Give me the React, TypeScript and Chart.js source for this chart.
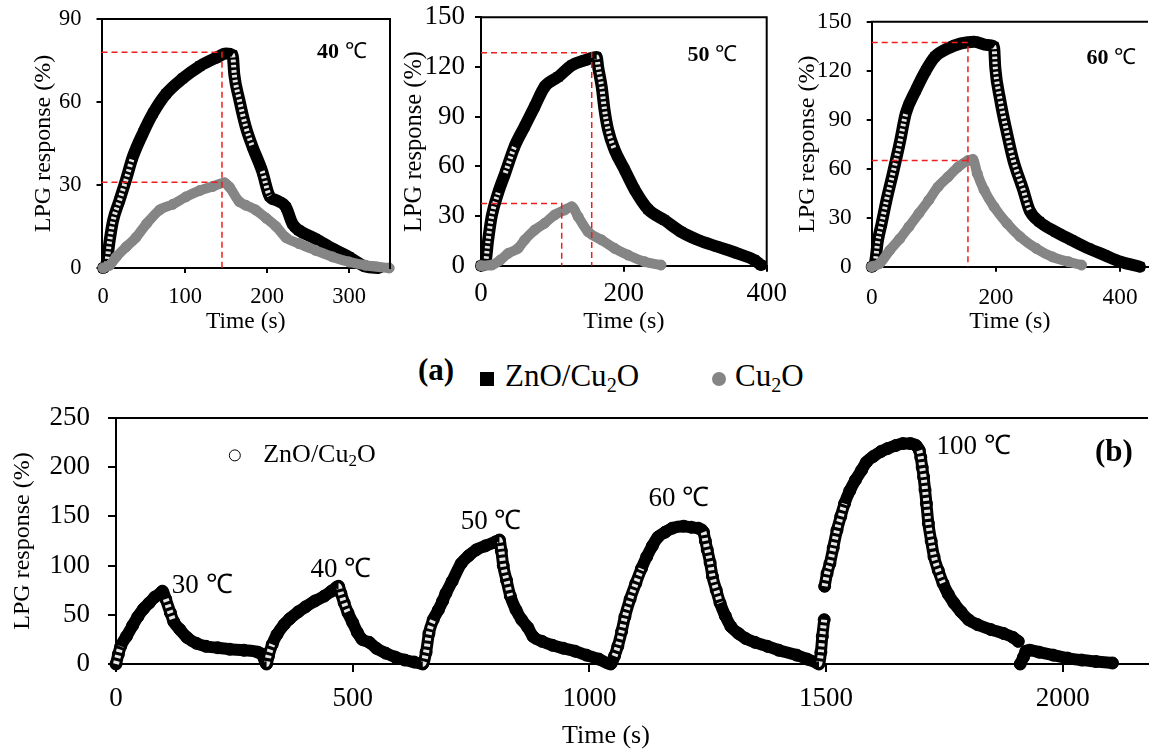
import React, { useEffect, useRef } from "react";
import { Chart, registerables } from "chart.js";

Chart.register(...registerables);

const SERIF = "'Liberation Serif', 'Times New Roman', Times, serif";
const BLACK = "#000000";
const GREY = "#858585";
const RED = "#f01e1e";
const DEG = "\u2103";

// ---------------- (a) 40 °C ----------------
const time40ZnO = [0, 4, 8, 12, 20, 28, 36, 49, 61, 77, 97, 118, 138, 150, 158, 160, 166, 174, 182, 194, 203, 211, 223, 231, 239, 259, 280, 300, 320, 336];
const resp40ZnO = [0, 1.5, 10, 17, 24.5, 32, 40, 49, 56, 63, 68.5, 73, 76, 77.5, 77, 70, 61, 51, 44, 35, 26, 24.5, 22, 16, 13.6, 10.6, 7, 4, 0.5, 0];
const time40Cu2O = [0, 8, 16, 28, 40, 53, 69, 85, 101, 118, 134, 148, 154, 166, 174, 186, 199, 211, 223, 239, 259, 280, 300, 320, 349];
const resp40Cu2O = [0, 1, 4, 7.6, 11, 16, 21, 23, 25.7, 28, 29.5, 30.8, 29.3, 24, 22.7, 21, 18, 15, 11, 8.8, 6.4, 4, 2.2, 1, 0];
const guide40TopX = [-2, 145, 145];
const guide40TopY = [78, 78, 0];
const guide40LowX = [-2, 145];
const guide40LowY = [31, 31];
const ticks40X = [0, 100, 200, 300];
const ticks40Y = [0, 30, 60, 90];

// ---------------- (a) 50 °C ----------------
const time50ZnO = [0, 6, 10, 15, 24, 34, 47, 61, 75, 89, 108, 127, 145, 162, 164, 169, 173, 178, 187, 201, 215, 234, 257, 280, 304, 331, 359, 383, 392];
const resp50ZnO = [0, 1.4, 15.5, 30, 44, 56, 72, 84, 96, 108, 114, 121, 124, 126, 120, 108, 94, 82, 70, 58, 46, 34, 27.5, 20.5, 15.5, 11.5, 7.4, 3.4, 0.4];
const time50Cu2O = [0, 15, 27, 38, 52, 61, 75, 89, 103, 117, 127, 136, 150, 169, 187, 206, 229, 252];
const resp50Cu2O = [0, 0.4, 3.4, 7.4, 10.5, 15.5, 21.5, 25.6, 30.6, 33.6, 35.6, 29.6, 20.5, 15.5, 10.5, 6.4, 2.4, 0.4];
const guide50TopX = [0, 155, 155];
const guide50TopY = [128.6, 128.6, 0];
const guide50LowX = [0, 113, 113];
const guide50LowY = [37.6, 37.6, 0];
const ticks50X = [0, 200, 400];
const ticks50Y = [0, 30, 60, 90, 120, 150];

// ---------------- (a) 60 °C ----------------
const time60ZnO = [0, 5, 10, 16, 24, 34, 45, 55, 71, 87, 102, 123, 144, 165, 186, 197, 199, 207, 218, 228, 244, 254, 270, 296, 322, 349, 375, 401, 432];
const resp60ZnO = [0, 2, 16, 26.5, 41, 57, 75.5, 94, 108, 120, 128.6, 133.7, 136.7, 137.8, 135.7, 134.7, 122, 102, 81.6, 65.3, 47, 34.7, 27.6, 21.4, 16.3, 11.2, 7.1, 3, 0];
const time60Cu2O = [0, 13, 29, 45, 60, 76, 92, 107, 123, 139, 155, 163, 170, 181, 197, 218, 239, 265, 291, 317, 338];
const resp60Cu2O = [0, 2, 10, 17, 24.5, 32.6, 40.8, 49, 55, 61, 65, 65.7, 57, 47, 36.7, 26.5, 18.4, 11.2, 6, 3, 1];
const guide60TopX = [0, 155, 155];
const guide60TopY = [137.3, 137.3, 0];
const guide60LowX = [0, 155];
const guide60LowY = [65, 65];
const ticks60X = [0, 200, 400];
const ticks60Y = [0, 30, 60, 90, 120, 150];

// ---------------- (b) ZnO/Cu2O, successive temperatures ----------------
const timeB30 = [0, 5, 10, 22, 35, 46, 58, 70, 82, 94, 98, 105, 115, 122, 135, 150, 170, 190, 215, 240, 270, 300, 308, 318];
const respB30 = [0, 10, 18, 28, 39, 48, 56, 62, 68, 72, 74, 66, 52, 43, 35, 27, 21, 18, 16.5, 15, 14, 12, 10, 0];
const timeB40 = [322, 330, 340, 355, 367, 385, 400, 420, 440, 455, 466, 470, 475, 482, 490, 500, 510, 520, 535, 550, 570, 590, 610, 630, 648];
const respB40 = [8, 20, 30, 40, 46, 53, 58, 64, 69, 74, 78, 79, 72, 62, 52, 42, 32, 25, 22, 16, 11, 7, 4, 2, 0];
const timeB50 = [655, 661, 670, 681, 690, 697, 710, 729, 745, 761, 780, 801, 810, 814, 818, 825, 833, 845, 857, 870, 881, 900, 922, 945, 970, 994, 1020, 1045];
const respB50 = [12, 31, 45, 55, 64, 72, 84, 102, 110, 116, 120, 124, 126, 115, 100, 85, 69, 55, 45, 37, 28, 23, 19, 16, 13, 9, 5, 0];
const timeB60 = [1053, 1060, 1068, 1075, 1086, 1098, 1110, 1121, 1133, 1145, 1160, 1175, 1199, 1215, 1230, 1241, 1245, 1249, 1255, 1260, 1268, 1276, 1287, 1299, 1315, 1330, 1350, 1376, 1400, 1438, 1460, 1481];
const respB60 = [8, 18, 33, 48, 66, 82, 97, 109, 120, 129, 134, 138, 140, 139, 138, 134, 125, 116, 103, 89, 75, 62, 49, 38, 31, 26, 22, 18, 14, 9, 5, 1];
const timeB100 = [1485, 1489, 1492, 1496, null, 1497, 1502, 1508, 1515, 1523, 1531, 1539, 1550, 1562, 1575, 1585, 1600, 1616, 1630, 1647, 1662, 1678, 1690, 1697, 1700, 1703, 1706, 1709, 1712, 1716, 1722, 1728, 1737, 1747, 1758, 1770, 1785, 1801, 1820, 1848, 1875, 1895, 1906, null, 1910, 1917, 1922, 1930, 1950, 1980, 2010, 2040, 2070, 2105];
const respB100 = [0, 12, 28, 45, null, 79, 92, 102, 118, 136, 150, 163, 176, 187, 197, 205, 211, 216, 219, 222, 224, 224, 222, 217, 210, 200, 190, 177, 163, 143, 125, 109, 95, 82, 71, 62, 53, 45, 40, 35, 31, 27, 23, null, 0, 7, 13, 14, 12, 9, 6, 4, 2.5, 1];
const ticksBX = [0, 500, 1000, 1500, 2000];
const ticksBY = [0, 50, 100, 150, 200, 250];
const tempLabelsB = ["30 " + DEG, "40 " + DEG, "50 " + DEG, "60 " + DEG, "100 " + DEG];

// anchors (data space) for text drawn inside plots
const tempLabelAnchorB = [[118, 79], [411, 95.6], [728, 144.6], [1125, 168], [1733, 220.5]];

const timeB = [...timeB30, ...timeB40, ...timeB50, ...timeB60, ...timeB100];
const respB = [...respB30, ...respB40, ...respB50, ...respB60, ...respB100];

// ---------------- helpers ----------------
const pts = (xs: (number | null)[], ys: (number | null)[]) => xs.map((x, i) => ({ x, y: ys[i] }));

function series(xs: any[], ys: any[], color: string, style: string, width: number, radius: number) {
  return {
    data: pts(xs, ys),
    borderColor: color,
    backgroundColor: color,
    pointBackgroundColor: color,
    pointBorderColor: color,
    pointBorderWidth: 1,
    borderWidth: width,
    pointStyle: style,
    pointRadius: radius,
    borderJoinStyle: "round",
    borderCapStyle: "round",
    cubicInterpolationMode: "monotone",
    spanGaps: false,
    clip: false,
    fill: false,
  };
}

// where the markers are sparse (steep stretches) the original shows hollow
// markers; a white dashed core along those stretches imitates that look
const isSteep = (c: any, k: number) => {
  const dx = Math.abs(c.p1.x - c.p0.x);
  const dy = Math.abs(c.p1.y - c.p0.y);
  return dy > k * Math.max(dx, 0.001);
};
function hollowCore(xs: any[], ys: any[], width: number, dash: number[], k: number) {
  return {
    data: pts(xs, ys),
    borderColor: "rgba(0,0,0,0)",
    borderWidth: width,
    borderDash: dash,
    borderCapStyle: "butt",
    pointRadius: 0,
    cubicInterpolationMode: "monotone",
    spanGaps: false,
    clip: false,
    fill: false,
    segment: {
      borderColor: (c: any) => (isSteep(c, k) ? "rgba(255,255,255,0.9)" : "rgba(0,0,0,0)"),
    },
  };
}

function guide(xs: number[], ys: number[]) {
  return {
    data: pts(xs, ys),
    borderColor: RED,
    borderWidth: 1.5,
    borderDash: [6, 4],
    pointRadius: 0,
    tension: 0,
    clip: false,
    fill: false,
  };
}

type Run = { text: string; size: number; bold?: boolean; dy?: number };
type Label = { runs: Run[]; x: number; y: number };

function makeDecor(rightBorder: boolean, labels: Label[], marker?: { x: number; y: number; r: number }) {
  return {
    id: "decor",
    afterDraw(chart: any) {
      const { ctx, chartArea: a, scales } = chart;
      ctx.save();
      ctx.strokeStyle = BLACK;
      ctx.lineWidth = 2;
      ctx.beginPath();
      ctx.moveTo(a.left - 1, a.top);
      ctx.lineTo(a.right, a.top);
      if (rightBorder) ctx.lineTo(a.right, a.bottom + 1);
      ctx.stroke();
      ctx.fillStyle = BLACK;
      ctx.textBaseline = "middle";
      ctx.textAlign = "left";
      for (const lab of labels) {
        let x = scales.x.getPixelForValue(lab.x);
        const y = scales.y.getPixelForValue(lab.y);
        for (const r of lab.runs) {
          ctx.font = `${r.bold ? "bold " : ""}${r.size}px ${SERIF}`;
          ctx.fillText(r.text, x, y + (r.dy || 0));
          x += ctx.measureText(r.text).width;
        }
      }
      if (marker) {
        ctx.beginPath();
        ctx.lineWidth = 1;
        ctx.arc(scales.x.getPixelForValue(marker.x), scales.y.getPixelForValue(marker.y), marker.r, 0, Math.PI * 2);
        ctx.stroke();
      }
      ctx.restore();
    },
  };
}

type Spec = {
  box: { left: number; top: number; w: number; h: number };
  area: { l: number; t: number; r: number; b: number };
  xMin: number; xMax: number; yMin: number; yMax: number;
  xTicks: number[]; yTicks: number[];
  tickSize: number; tickLen: number; yTickPad: number; xTickPad: number;
  yTitle: string; yTitleSize: number; yTitlePad: number;
  xTitle?: string; xTitleSize?: number; xTitlePad?: number;
  datasets: any[];
  plugin: any;
};

function axis(kind: "x" | "y", s: Spec) {
  const isX = kind === "x";
  const size = isX ? s.box.top + s.box.h - s.area.b : s.area.l - s.box.left;
  const ticks = isX ? s.xTicks : s.yTicks;
  const title = isX ? s.xTitle : s.yTitle;
  const titleSize = isX ? s.xTitleSize : s.yTitleSize;
  const titlePad = isX ? s.xTitlePad : s.yTitlePad;
  return {
    type: "linear",
    bounds: "data",
    min: isX ? s.xMin : s.yMin,
    max: isX ? s.xMax : s.yMax,
    afterBuildTicks: (ax: any) => {
      ax.ticks = ticks.map((v) => ({ value: v }));
    },
    afterFit: (ax: any) => {
      if (isX) ax.height = size;
      else ax.width = size;
      ax.paddingTop = 0;
      ax.paddingBottom = 0;
      ax.paddingLeft = 0;
      ax.paddingRight = 0;
    },
    grid: { drawOnChartArea: false, drawTicks: true, tickLength: s.tickLen, color: BLACK, lineWidth: 2 },
    border: { display: true, color: BLACK, width: 2 },
    ticks: {
      color: BLACK,
      font: { family: SERIF, size: s.tickSize },
      padding: isX ? s.xTickPad : s.yTickPad,
      maxRotation: 0,
      minRotation: 0,
      autoSkip: false,
      callback: (v: number) => String(v),
    },
    title: {
      display: !!title,
      text: title || "",
      color: BLACK,
      font: { family: SERIF, size: titleSize, lineHeight: 1 },
      padding: isX ? { top: 0, bottom: titlePad } : { top: titlePad, bottom: 0 },
    },
  };
}

function buildConfig(s: Spec) {
  return {
    type: "line",
    data: { datasets: s.datasets },
    options: {
      animation: false,
      responsive: false,
      maintainAspectRatio: false,
      events: [],
      layout: {
        padding: { left: 0, top: s.area.t - s.box.top, right: s.box.left + s.box.w - s.area.r, bottom: 0 },
      },
      plugins: { legend: { display: false }, tooltip: { enabled: false } },
      scales: { x: axis("x", s), y: axis("y", s) },
    },
    plugins: [s.plugin],
  };
}

const tempRuns = (num: string): Run[] => [
  { text: num, size: 22, bold: true },
  { text: " " + DEG, size: 22 },
];

const specs: Spec[] = [
  {
    box: { left: 0, top: 0, w: 400, h: 340 },
    area: { l: 101.5, t: 19, r: 390, b: 268 },
    xMin: -2, xMax: 350, yMin: 0, yMax: 90,
    xTicks: ticks40X, yTicks: ticks40Y,
    tickSize: 22.5, tickLen: 5, yTickPad: 15, xTickPad: 11,
    yTitle: "LPG response (%)", yTitleSize: 24, yTitlePad: 32,
    xTitle: "Time (s)", xTitleSize: 23.5, xTitlePad: 6,
    datasets: [
      guide(guide40TopX, guide40TopY),
      guide(guide40LowX, guide40LowY),
      series(time40Cu2O, resp40Cu2O, GREY, "circle", 10, 5),
      hollowCore(time40ZnO, resp40ZnO, 5, [2.5, 2.5], 2.8),
      series(time40ZnO, resp40ZnO, BLACK, "rect", 12, 6),
    ],
    plugin: makeDecor(true, [{ runs: tempRuns("40"), x: 261, y: 78 }]),
  },
  {
    box: { left: 392, top: 0, w: 408, h: 340 },
    area: { l: 481, t: 17.3, r: 766.7, b: 265.7 },
    xMin: 0, xMax: 400, yMin: 0, yMax: 150,
    xTicks: ticks50X, yTicks: ticks50Y,
    tickSize: 27, tickLen: 6, yTickPad: 10, xTickPad: 6,
    yTitle: "LPG response (%)", yTitleSize: 24.5, yTitlePad: 10.5,
    xTitle: "Time (s)", xTitleSize: 24, xTitlePad: 6.3,
    datasets: [
      guide(guide50TopX, guide50TopY),
      guide(guide50LowX, guide50LowY),
      series(time50Cu2O, resp50Cu2O, GREY, "circle", 10, 5),
      hollowCore(time50ZnO, resp50ZnO, 5, [2.5, 2.5], 2.8),
      series(time50ZnO, resp50ZnO, BLACK, "rect", 12, 6),
    ],
    plugin: makeDecor(true, [{ runs: tempRuns("50"), x: 289, y: 127 }]),
  },
  {
    box: { left: 780, top: 0, w: 375, h: 340 },
    area: { l: 871.7, t: 21.7, r: 1155, b: 266.7 },
    xMin: 0, xMax: 445, yMin: 0, yMax: 150,
    xTicks: ticks60X, yTicks: ticks60Y,
    tickSize: 23.3, tickLen: 5, yTickPad: 15, xTickPad: 12,
    yTitle: "LPG response (%)", yTitleSize: 24, yTitlePad: 16,
    xTitle: "Time (s)", xTitleSize: 24, xTitlePad: 6.3,
    datasets: [
      guide(guide60TopX, guide60TopY),
      guide(guide60LowX, guide60LowY),
      series(time60Cu2O, resp60Cu2O, GREY, "circle", 10, 5),
      hollowCore(time60ZnO, resp60ZnO, 5, [2.5, 2.5], 2.8),
      series(time60ZnO, resp60ZnO, BLACK, "rect", 12, 6),
    ],
    plugin: makeDecor(false, [{ runs: tempRuns("60"), x: 346, y: 127.8 }]),
  },
  {
    box: { left: 0, top: 400, w: 1155, h: 349 },
    area: { l: 116, t: 418, r: 1155, b: 664 },
    xMin: 0, xMax: 2180, yMin: 0, yMax: 250,
    xTicks: ticksBX, yTicks: ticksBY,
    tickSize: 27, tickLen: 8, yTickPad: 18, xTickPad: 11,
    yTitle: "LPG response (%)", yTitleSize: 24, yTitlePad: 11,
    datasets: [
      hollowCore(timeB, respB, 6, [3, 3], 2.5),
      series(timeB, respB, BLACK, "circle", 12, 6),
    ],
    plugin: makeDecor(
      false,
      [
        ...tempLabelsB.map((t, i) => ({ runs: [{ text: t, size: 27 }], x: tempLabelAnchorB[i][0], y: tempLabelAnchorB[i][1] })),
        { runs: [{ text: "(b)", size: 31, bold: true }], x: 2068, y: 214 },
        {
          runs: [
            { text: "ZnO/Cu", size: 26 },
            { text: "2", size: 17, dy: 6 },
            { text: "O", size: 26 },
          ],
          x: 311,
          y: 212,
        },
      ],
      { x: 251, y: 212, r: 5.5 }
    ),
  },
];

function ChartCanvas({ spec }: { spec: Spec }) {
  const ref = useRef<HTMLCanvasElement | null>(null);
  useEffect(() => {
    if (!ref.current) return;
    const chart = new Chart(ref.current, buildConfig(spec) as any);
    return () => chart.destroy();
  }, [spec]);
  const { left, top, w, h } = spec.box;
  return (
    <canvas
      ref={ref}
      width={w}
      height={h}
      style={{ position: "absolute", left, top, width: w, height: h }}
    />
  );
}

const subStyle: React.CSSProperties = { fontSize: "0.65em", verticalAlign: "-0.3em", lineHeight: 0 };

export default function App() {
  return (
    <div
      style={{
        position: "fixed",
        left: 0,
        top: 0,
        width: 1155,
        height: 749,
        overflow: "hidden",
        background: "#fff",
        fontFamily: SERIF,
        color: "#000",
      }}
    >
      {specs.map((s, i) => (
        <ChartCanvas key={i} spec={s} />
      ))}
      <span style={{ position: "absolute", left: 418, top: 354, fontSize: 31, lineHeight: "31px", fontWeight: "bold", whiteSpace: "nowrap" }}>
        (a)
      </span>
      <span style={{ position: "absolute", left: 480, top: 372, width: 14, height: 14, background: BLACK }} />
      <span style={{ position: "absolute", left: 505, top: 360, fontSize: 31, lineHeight: "31px", whiteSpace: "nowrap" }}>
        ZnO/Cu<sub style={subStyle}>2</sub>O
      </span>
      <span style={{ position: "absolute", left: 712, top: 372, width: 14, height: 14, borderRadius: "50%", background: GREY }} />
      <span style={{ position: "absolute", left: 735, top: 360, fontSize: 31, lineHeight: "31px", whiteSpace: "nowrap" }}>
        Cu<sub style={subStyle}>2</sub>O
      </span>
      <span style={{ position: "absolute", left: 562, top: 722, fontSize: 26, lineHeight: "26px", whiteSpace: "nowrap" }}>
        Time (s)
      </span>
    </div>
  );
}
